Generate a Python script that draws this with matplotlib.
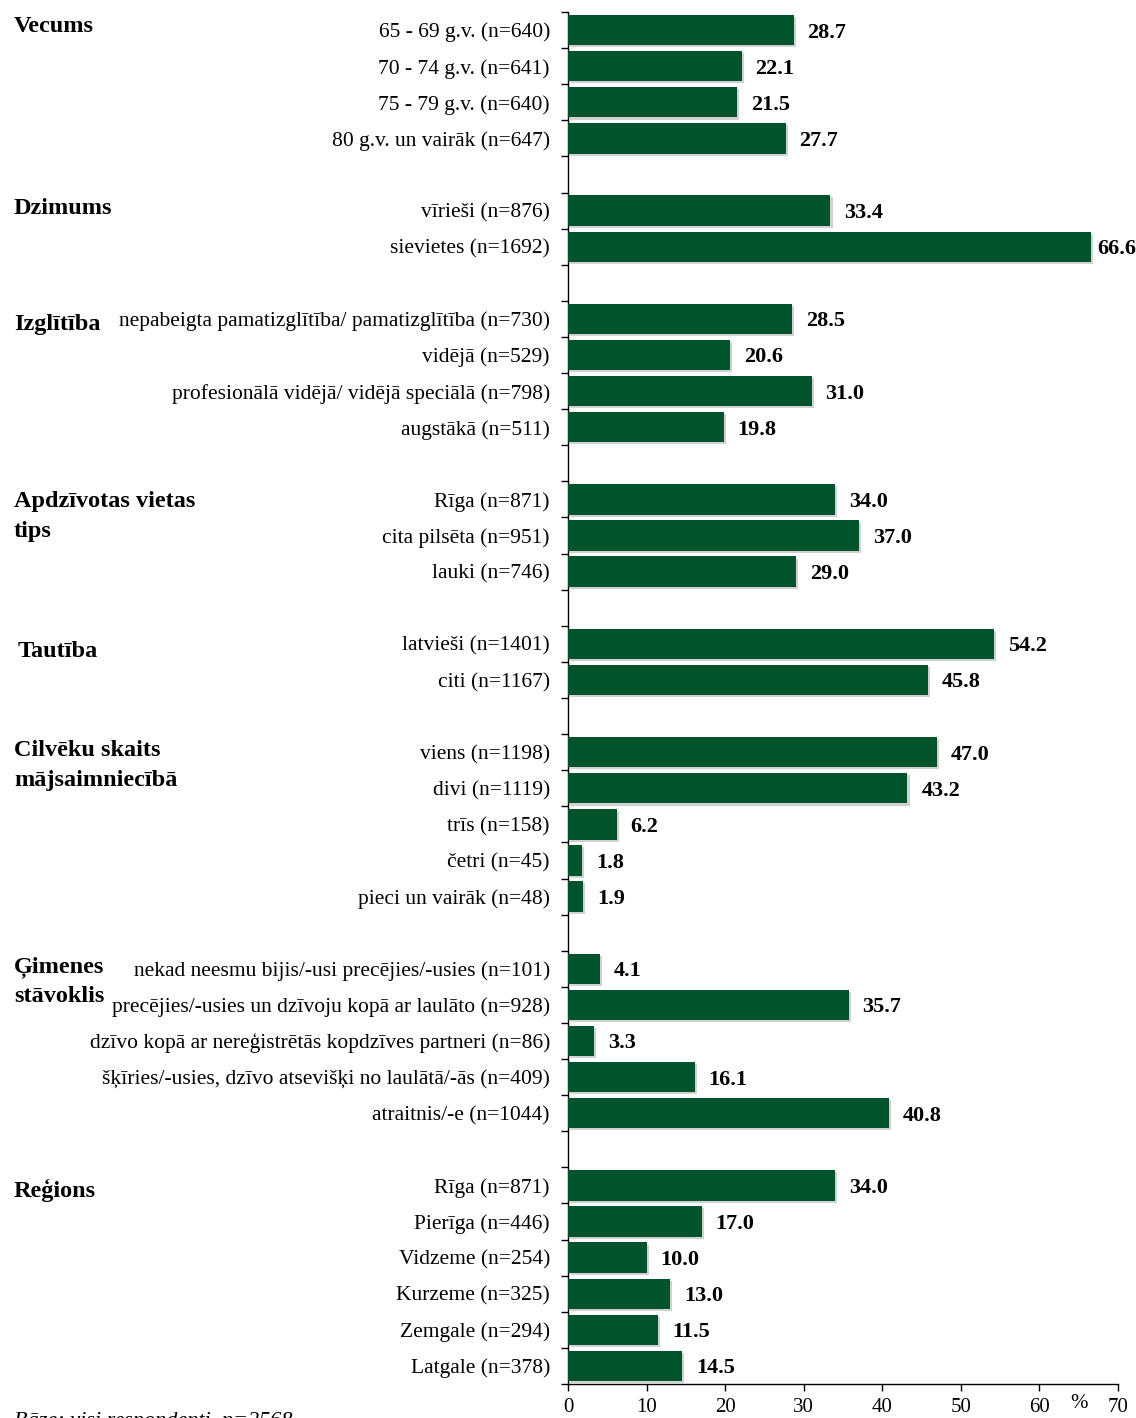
import numpy as np
import matplotlib.pyplot as plt
import matplotlib.patheffects as pe
from matplotlib.transforms import blended_transform_factory

plt.rcParams['font.family'] = ['Liberation Serif', 'DejaVu Serif']

# =========================
# Data
# =========================
groups = ["Vecums", "Dzimums", "Izglītība", "Apdzīvotas vietas\ntips", "Tautība",
          "Cilvēku skaits\nmājsaimniecībā", "Ģimenes\nstāvoklis", "Reģions"]

vecums_labels = ["65 - 69 g.v. (n=640)", "70 - 74 g.v. (n=641)", "75 - 79 g.v. (n=640)",
                 "80 g.v. un vairāk (n=647)"]
vecums_values = [28.7, 22.1, 21.5, 27.7]

dzimums_labels = ["vīrieši (n=876)", "sievietes (n=1692)"]
dzimums_values = [33.4, 66.6]

izgl_labels = ["nepabeigta pamatizglītība/ pamatizglītība (n=730)", "vidējā (n=529)",
               "profesionālā vidējā/ vidējā speciālā (n=798)", "augstākā (n=511)"]
izgl_values = [28.5, 20.6, 31.0, 19.8]

vieta_labels = ["Rīga (n=871)", "cita pilsēta (n=951)", "lauki (n=746)"]
vieta_values = [34.0, 37.0, 29.0]

tautiba_labels = ["latvieši (n=1401)", "citi (n=1167)"]
tautiba_values = [54.2, 45.8]

skaits_labels = ["viens (n=1198)", "divi (n=1119)", "trīs (n=158)", "četri (n=45)",
                 "pieci un vairāk (n=48)"]
skaits_values = [47.0, 43.2, 6.2, 1.8, 1.9]

gimene_labels = ["nekad neesmu bijis/-usi precējies/-usies (n=101)",
                 "precējies/-usies un dzīvoju kopā ar laulāto (n=928)",
                 "dzīvo kopā ar nereģistrētās kopdzīves partneri (n=86)",
                 "šķīries/-usies, dzīvo atsevišķi no laulātā/-ās (n=409)",
                 "atraitnis/-e (n=1044)"]
gimene_values = [4.1, 35.7, 3.3, 16.1, 40.8]

regions_labels = ["Rīga (n=871)", "Pierīga (n=446)", "Vidzeme (n=254)", "Kurzeme (n=325)",
                  "Zemgale (n=294)", "Latgale (n=378)"]
regions_values = [34.0, 17.0, 10.0, 13.0, 11.5, 14.5]

group_labels = [vecums_labels, dzimums_labels, izgl_labels, vieta_labels,
                tautiba_labels, skaits_labels, gimene_labels, regions_labels]
group_values = [vecums_values, dzimums_values, izgl_values, vieta_values,
                tautiba_values, skaits_values, gimene_values, regions_values]

x_ticks = [0, 10, 20, 30, 40, 50, 60, 70]
footnote = "Bāze: visi respondenti, n=2568"

GREEN = "#00532a"
# heading nudges in points (x from left edge, y relative to first row)
head_x = [10, 10, 10, 10, 13, 10, 10, 10]
head_dy = [4.5, 3.5, -2, 0.5, -3.5, 3, 3, -1.5]

# =========================
# Build row positions (one empty slot between groups)
# =========================
pos, labels, values, group_pos = [], [], [], []
row = 0
for labs, vals in zip(group_labels, group_values):
    group_pos.append(row)
    for l, v in zip(labs, vals):
        pos.append(row)
        labels.append(l)
        values.append(v)
        row += 1
    row += 1
n_slots = row - 1

fig = plt.figure(figsize=(11.36, 14.18), dpi=100)
ax = fig.add_axes([0.5, 1 - 1384 / 1418, 0.4842, (1384 - 12) / 1418])

shadow = [pe.SimplePatchShadow(offset=(1.5, -1.5), shadow_rgbFace="#999999", alpha=0.45),
          pe.Normal()]
bars = ax.barh(pos, values, height=0.84, color=GREEN, zorder=3)
for b in bars:
    b.set_path_effects(shadow)

for p, v in zip(pos, values):
    off = 10 if v < 64 else 4
    ax.annotate(f"{v:.1f}", (v, p), xytext=(off, 0), textcoords="offset points",
                va="center_baseline", ha="left", fontsize=16, fontweight="bold")

ax.set_xlim(0, 70)
ax.set_ylim(n_slots - 0.5, -0.5)

ax.set_yticks(pos)
ax.set_yticklabels(labels, fontsize=15.5, va="center_baseline")
ax.tick_params(axis="y", which="major", length=0, pad=13)
ax.set_yticks(np.arange(-0.5, n_slots, 1.0), minor=True)
ax.tick_params(axis="y", which="minor", length=5, width=1, direction="out")

ax.set_xticks(x_ticks)
ax.set_xticklabels([str(t) for t in x_ticks], fontsize=15)
ax.tick_params(axis="x", length=5, width=1, direction="out", pad=5)

for s in ["top", "right"]:
    ax.spines[s].set_visible(False)
ax.spines["left"].set_linewidth(1)
ax.spines["bottom"].set_linewidth(1)

ax.annotate("%", (65, 0), xycoords=ax.get_xaxis_transform(), xytext=(0, -14),
            textcoords="offset points", ha="center", va="center", fontsize=15)

# group headings at the far left
head_tr = blended_transform_factory(fig.transFigure, ax.transData)
for g, p, hx, hy in zip(groups, group_pos, head_x, head_dy):
    for i, line in enumerate(g.split("\n")):
        ax.annotate(line, (0, p), xycoords=head_tr, xytext=(hx, hy - 21.5 * i),
                    textcoords="offset points", ha="left", va="center_baseline",
                    fontsize=17.5, fontweight="bold", annotation_clip=False)

# footnote sits at the bottom edge, partly cut off as in the source image
fig.text(14 / 1136, 1 - 1412 / 1418, footnote, ha="left", va="top", fontsize=16,
         fontstyle="italic")

fig.savefig("out.png", dpi=100)
